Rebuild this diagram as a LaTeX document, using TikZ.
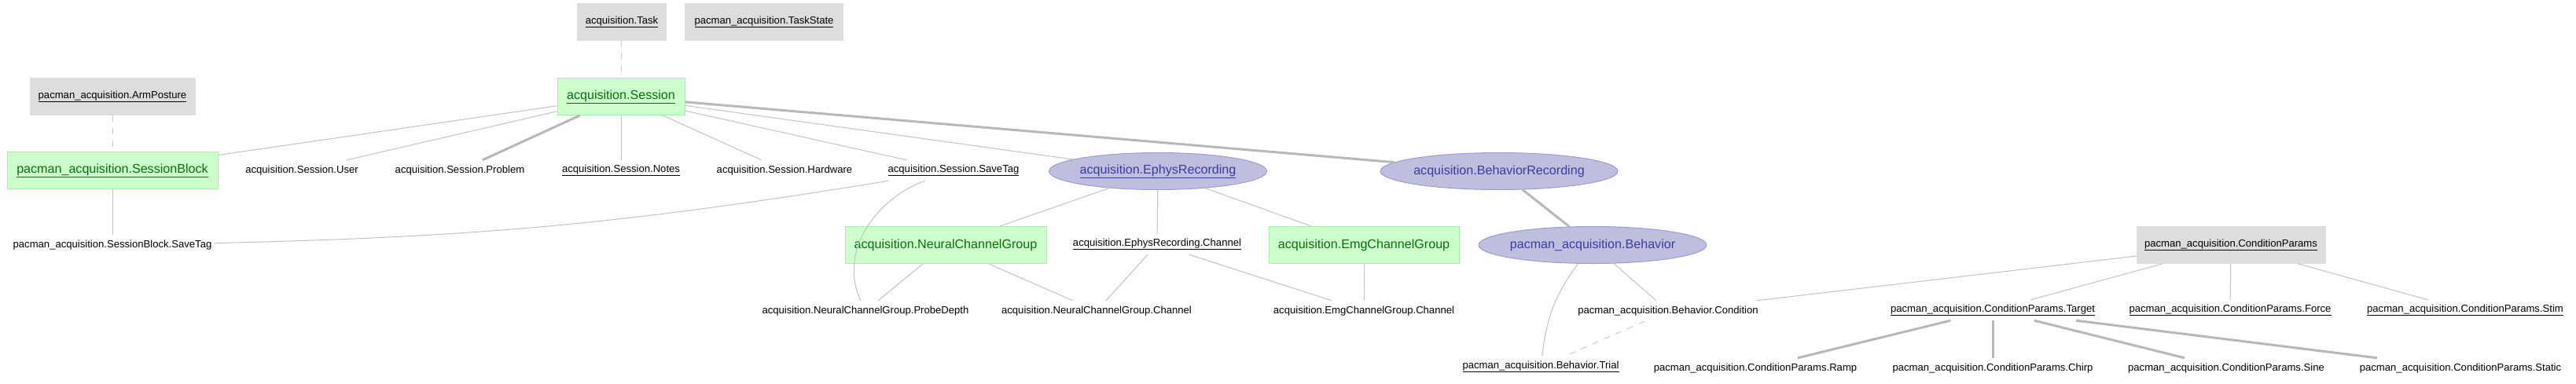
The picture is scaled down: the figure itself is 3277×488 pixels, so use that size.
\documentclass[tikz,border=0pt]{standalone}
\usepackage{fontspec}
\setmainfont{Liberation Sans}
\usetikzlibrary{shapes.geometric}
\definecolor{edgec}{HTML}{C2C2C2}
\definecolor{heavyc}{HTML}{B8B8B8}
\definecolor{dashc}{HTML}{CCCCCC}
\definecolor{gboxc}{HTML}{DDDDDD}
\definecolor{grfill}{HTML}{CCFFCC}
\definecolor{grdraw}{HTML}{A8F0A8}
\definecolor{grtext}{HTML}{0A6E0A}
\definecolor{elfill}{HTML}{BEBEDF}
\definecolor{eldraw}{HTML}{9C9CD2}
\definecolor{eltext}{HTML}{3C3C9E}
\newcommand\smallf{\fontsize{13.1}{15.7}\selectfont}
\newcommand\bigf{\fontsize{16.1}{19.3}\selectfont}
\newcommand\ul[1]{\underline{#1}}
\begin{document}
\begin{tikzpicture}[x=1pt,y=1pt,
  lbl/.style={font=\smallf, text=black, inner xsep=3pt, inner ysep=0pt, minimum height=26pt},
  graybox/.style={font=\smallf, text=black, fill=gboxc, draw=gboxc, inner sep=0pt, minimum height=47pt},
  greenbox/.style={font=\bigf, text=grtext, fill=grfill, draw=grdraw, line width=1pt, inner sep=0pt, minimum height=47pt},
  ell/.style={ellipse, font=\bigf, text=eltext, fill=elfill, draw=eldraw, line width=1pt, inner sep=0pt, minimum height=47pt},
  link/.style={draw=edgec, line width=1pt},
  heavy/.style={draw=heavyc, line width=3pt},
  dlink/.style={draw=dashc, line width=1pt, dash pattern=on 8pt off 8pt}]
\useasboundingbox (0,0) rectangle (3277,-488);
\fill[white] (0,0) rectangle (3277,-488);

% top gray boxes
\node[graybox, minimum width=113pt] (task) at (791,-28) {\ul{acquisition.Task}};
\node[graybox, minimum width=201pt] (taskstate) at (972,-28) {\ul{pacman\_acquisition.TaskState}};
\node[graybox, minimum width=210pt] (arm) at (143,-123) {\ul{pacman\_acquisition.ArmPosture}};

% session
\node[greenbox, minimum width=162pt] (session) at (790,-123) {\ul{acquisition.Session}};
\node[greenbox, minimum width=268pt] (sblock) at (143,-217) {\ul{pacman\_acquisition.SessionBlock}};

\node[lbl] (user) at (384,-217) {acquisition.Session.User};
\node[lbl] (problem) at (585,-217) {acquisition.Session.Problem};
\node[lbl] (notes) at (790,-217) {\ul{acquisition.Session.Notes}};
\node[lbl] (hardware) at (998,-217) {acquisition.Session.Hardware};
\node[lbl] (savetag) at (1213,-217) {\ul{acquisition.Session.SaveTag}};
\node[lbl] (sbsavetag) at (143,-312) {pacman\_acquisition.SessionBlock.SaveTag};

% ephys
\node[ell, minimum width=277pt] (ephys) at (1473,-218) {\makebox[0pt]{\ul{acquisition.EphysRecording}}};
\node[ell, minimum width=302pt] (behrec) at (1907,-218) {\makebox[0pt]{acquisition.BehaviorRecording}};
\node[greenbox, minimum width=256pt] (ncg) at (1203,-312) {acquisition.NeuralChannelGroup};
\node[lbl] (ephyschan) at (1472,-311) {\ul{acquisition.EphysRecording.Channel}};
\node[greenbox, minimum width=242pt] (emgcg) at (1735,-312) {acquisition.EmgChannelGroup};
\node[ell, minimum width=290pt] (behavior) at (2026,-312) {\makebox[0pt]{pacman\_acquisition.Behavior}};
\node[graybox, minimum width=240pt] (cparams) at (2838,-312) {\ul{pacman\_acquisition.ConditionParams}};

\node[lbl] (probedepth) at (1101,-396) {acquisition.NeuralChannelGroup.ProbeDepth};
\node[lbl] (ncgchan) at (1395,-396) {acquisition.NeuralChannelGroup.Channel};
\node[lbl] (emgchan) at (1735,-396) {acquisition.EmgChannelGroup.Channel};
\node[lbl] (condition) at (2122,-396) {pacman\_acquisition.Behavior.Condition};
\node[lbl] (target) at (2535,-395) {\ul{pacman\_acquisition.ConditionParams.Target}};
\node[lbl] (force) at (2837,-395) {\ul{pacman\_acquisition.ConditionParams.Force}};
\node[lbl] (stim) at (3136,-395) {\ul{pacman\_acquisition.ConditionParams.Stim}};

\node[lbl] (trial) at (1960,-467) {\ul{pacman\_acquisition.Behavior.Trial}};
\node[lbl] (ramp) at (2233,-469) {pacman\_acquisition.ConditionParams.Ramp};
\node[lbl] (chirp) at (2535,-469) {pacman\_acquisition.ConditionParams.Chirp};
\node[lbl] (sine) at (2832,-469) {pacman\_acquisition.ConditionParams.Sine};
\node[lbl] (static) at (3130,-469) {pacman\_acquisition.ConditionParams.Static};

% edges
\begin{scope}[on background layer/.style={}]
\path[dlink] (task) -- (session);
\path[dlink] (arm) -- (sblock);
\path[link] (session) -- (sblock);
\path[link] (session) -- (user);
\path[heavy] (session) -- (problem);
\path[link] (session) -- (notes);
\path[link] (session) -- (hardware);
\path[link] (session) -- (savetag);
\path[link] (session) -- (ephys);
\path[heavy] (session) -- (behrec);
\path[link] (sblock) -- (sbsavetag);
\path[link] (savetag) to[bend left=4] (sbsavetag);
\path[link] (savetag) to[out=200,in=115] (probedepth);
\path[link] (ephys) -- (ncg);
\path[link] (ephys) -- (ephyschan);
\path[link] (ephys) -- (emgcg);
\path[link] (ncg) -- (probedepth);
\path[link] (ncg) -- (ncgchan);
\path[link] (ephyschan) -- (ncgchan);
\path[link] (ephyschan) -- (emgchan);
\path[link] (emgcg) -- (emgchan);
\path[heavy] (behrec) -- (behavior);
\path[link] (behavior) -- (condition);
\path[link] (behavior) to[bend right=15] (trial);
\path[dlink] (condition) -- (trial);
\path[link] (cparams) -- (condition);
\path[link] (cparams) -- (target);
\path[link] (cparams) -- (force);
\path[link] (cparams) -- (stim);
\path[heavy] (target) -- (ramp);
\path[heavy] (target) -- (chirp);
\path[heavy] (target) -- (sine);
\path[heavy] (target) -- (static);
\end{scope}
\end{tikzpicture}
\end{document}
